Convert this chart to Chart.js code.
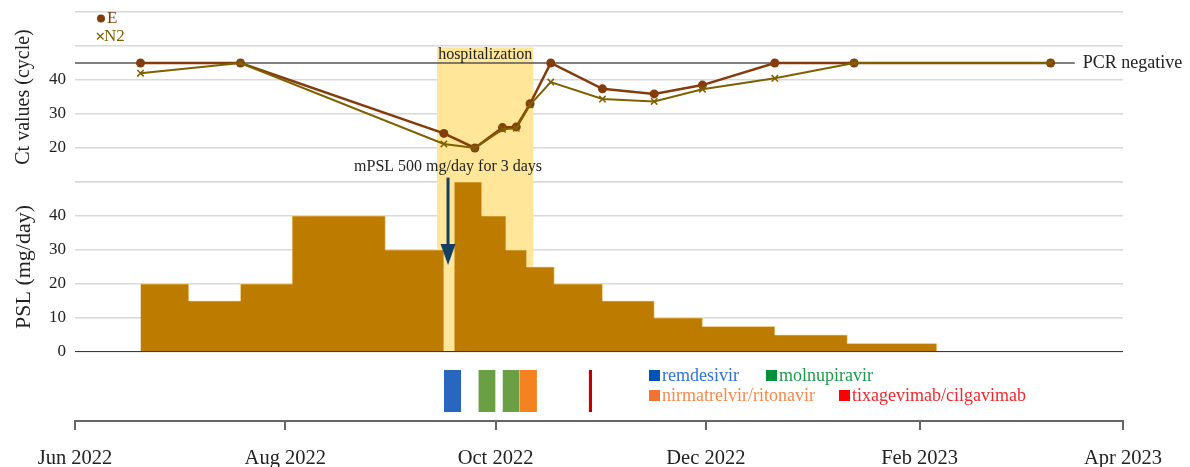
<!DOCTYPE html>
<html>
<head>
<meta charset="utf-8">
<script src="https://cdn.jsdelivr.net/npm/chart.js@4.4.1/dist/chart.umd.min.js"></script>
<style>
  html, body { margin: 0; padding: 0; background: #ffffff; }
  #wrap { width: 1190px; height: 467px; }
</style>
</head>
<body>
<div id="wrap"><canvas id="c" width="1190" height="467"></canvas></div>
<script>
// ---- Ct values of SARS-CoV-2 RT-PCR (45 = negative) ----
const ctDates = ['2022-06-20','2022-07-19','2022-09-16','2022-09-25','2022-10-03','2022-10-07','2022-10-11',
                 '2022-10-17','2022-11-01','2022-11-16','2022-11-30','2022-12-21','2023-01-13','2023-03-11'];
const ctE  = [45, 45, 24.3, 20, 26, 26.2, 33, 45, 37.4, 35.9, 38.5, 45, 45, 45];
const ctN2 = [42, 45, 21.2, 20, 25.5, 25.8, 32.7, 39.4, 34.4, 33.7, 37.3, 40.5, 45, 45];

// ---- oral prednisolone dose, each value holds until the next date ----
const pslDates = ['2022-06-20','2022-07-04','2022-07-19','2022-08-03','2022-08-30','2022-09-16','2022-09-19',
                  '2022-09-27','2022-10-04','2022-10-10','2022-10-18','2022-11-01','2022-11-16','2022-11-30',
                  '2022-12-21','2023-01-11','2023-02-06'];
const pslDose  = [20, 15, 20, 40, 30, 0, 50, 40, 30, 25, 20, 15, 10, 7.5, 5, 2.5, 0];

// ---- events ----
const hospitalization = ['2022-09-14', '2022-10-12'];
const mpslPulse = ['2022-09-16', '2022-09-19'];

// ---- antiviral / antibody treatments ----
const treatDrug  = ['remdesivir', 'molnupiravir', 'molnupiravir', 'nirmatrelvir/ritonavir', 'tixagevimab/cilgavimab'];
const treatStart = ['2022-09-16', '2022-09-26', '2022-10-03', '2022-10-08', '2022-10-28'];
const treatEnd   = ['2022-09-21', '2022-10-01', '2022-10-08', '2022-10-13', '2022-10-29'];
const drugNames  = ['remdesivir', 'molnupiravir', 'nirmatrelvir/ritonavir', 'tixagevimab/cilgavimab'];

// ---- axes ----
const xTickDates  = ['2022-06-01','2022-08-01','2022-10-01','2022-12-01','2023-02-01','2023-04-01'];
const xTickLabels = ['Jun 2022','Aug 2022','Oct 2022','Dec 2022','Feb 2023','Apr 2023'];
const ctTickLabels  = [20, 30, 40];
const pslTickLabels = [0, 10, 20, 30, 40];
const pcrNegativeCt = 45;
const pcrLineEnd = '2023-03-18';

// ---- helpers ----
const ORIGIN = Date.UTC(2022, 5, 1);
function day(s) {
  const [y, m, d] = s.split('-').map(Number);
  return (Date.UTC(y, m - 1, d) - ORIGIN) / 864e5;
}
const FONT = '"Liberation Serif", "Times New Roman", serif';
const drugStyle = {
  'remdesivir':             { bar: '#2966C0', key: '#0052B4', text: '#2E74D4' },
  'molnupiravir':           { bar: '#6AA043', key: '#00913D', text: '#1E9A4C' },
  'nirmatrelvir/ritonavir': { bar: '#F58220', key: '#F07430', text: '#F5894C' },
  'tixagevimab/cilgavimab': { bar: '#C00000', key: '#FF0000', text: '#F0282D' }
};
const C_E = '#843C0C', C_N2 = '#7F6000', C_PSL = '#BD7B00', C_HOSP = '#FFE699', C_ARROW = '#123F63';
const HOSP_TOP_CT = 49.6;            // upper edge of the shaded stay in the Ct panel
const TX_LOW = 0.13, TX_HIGH = 0.74;  // vertical extent of treatment bars

const datasets = [];

// hospitalization shading (two pieces, one per panel)
datasets.push({
  data: hospitalization.map(d => ({ x: day(d), y: HOSP_TOP_CT })),
  yAxisID: 'yCt', fill: { value: 5 }, backgroundColor: C_HOSP,
  borderColor: 'rgba(0,0,0,0)', borderWidth: 0, pointRadius: 0, order: 20
});
datasets.push({
  data: hospitalization.map(d => ({ x: day(d), y: 50 })),
  yAxisID: 'yPsl', fill: 'origin', backgroundColor: C_HOSP,
  borderColor: 'rgba(0,0,0,0)', borderWidth: 0, pointRadius: 0, order: 20
});

// prednisolone dose steps
datasets.push({
  data: pslDates.map((d, i) => ({ x: day(d), y: pslDose[i] })),
  yAxisID: 'yPsl', stepped: true, fill: 'origin', backgroundColor: C_PSL,
  borderColor: 'rgba(255,226,160,0.55)', borderWidth: 1, pointRadius: 0, order: 10
});

// treatment bars
treatDrug.forEach((name, i) => {
  datasets.push({
    data: [{ x: day(treatStart[i]), y: TX_HIGH }, { x: day(treatEnd[i]), y: TX_HIGH }],
    yAxisID: 'yTx', fill: { value: TX_LOW }, backgroundColor: drugStyle[name].bar,
    borderColor: 'rgba(0,0,0,0)', borderWidth: 0, pointRadius: 0, order: 10
  });
});

// PSL zero line
datasets.push({
  data: [{ x: 0, y: 0 }, { x: day(xTickDates[xTickDates.length - 1]), y: 0 }],
  yAxisID: 'yPsl', borderColor: '#3A3A3A', borderWidth: 2, pointRadius: 0, fill: false, order: 6
});

// PCR negative reference line
datasets.push({
  data: [{ x: 0, y: pcrNegativeCt }, { x: day(pcrLineEnd), y: pcrNegativeCt }],
  yAxisID: 'yCt', borderColor: '#555555', borderWidth: 1.5, pointRadius: 0, fill: false, order: 5
});

// Ct series
datasets.push({
  label: 'E',
  data: ctDates.map((d, i) => ({ x: day(d), y: ctE[i] })),
  yAxisID: 'yCt', borderColor: C_E, backgroundColor: C_E, borderWidth: 2.5,
  pointStyle: 'circle', pointRadius: 4.5, pointBorderWidth: 0, fill: false, tension: 0, order: 2
});
datasets.push({
  label: 'N2',
  data: ctDates.map((d, i) => ({ x: day(d), y: ctN2[i] })),
  yAxisID: 'yCt', borderColor: C_N2, backgroundColor: C_N2, borderWidth: 2,
  pointStyle: 'crossRot', pointRadius: 4.5, pointBorderWidth: 1.5, fill: false, tension: 0, order: 1
});

// text, arrow and keys drawn on top of the plot
const annotations = {
  id: 'annotations',
  afterDraw(chart) {
    const { ctx, scales: { x, yCt, yPsl } } = chart;
    ctx.save();

    // hospitalization label
    const hx = (x.getPixelForValue(day(hospitalization[0])) + x.getPixelForValue(day(hospitalization[1]))) / 2;
    ctx.fillStyle = '#222';
    ctx.font = '16px ' + FONT;
    ctx.textAlign = 'center';
    ctx.textBaseline = 'alphabetic';
    ctx.fillText('hospitalization', hx, yCt.getPixelForValue(pcrNegativeCt) - 4);

    // PCR negative label
    ctx.font = '18px ' + FONT;
    ctx.textAlign = 'left';
    ctx.textBaseline = 'middle';
    ctx.fillText('PCR negative', x.getPixelForValue(day(pcrLineEnd)) + 8, yCt.getPixelForValue(pcrNegativeCt));

    // mPSL pulse arrow
    const ax = (x.getPixelForValue(day(mpslPulse[0])) + x.getPixelForValue(day(mpslPulse[1]))) / 2 - 1;
    const aTop = yPsl.getPixelForValue(51.3), aTip = yPsl.getPixelForValue(25.6);
    ctx.strokeStyle = C_ARROW;
    ctx.fillStyle = C_ARROW;
    ctx.lineWidth = 3;
    ctx.beginPath();
    ctx.moveTo(ax, aTop);
    ctx.lineTo(ax, aTip - 16);
    ctx.stroke();
    ctx.beginPath();
    ctx.moveTo(ax - 7.5, aTip - 21);
    ctx.lineTo(ax + 7.5, aTip - 21);
    ctx.lineTo(ax, aTip);
    ctx.closePath();
    ctx.fill();
    ctx.fillStyle = '#222';
    ctx.font = '16px ' + FONT;
    ctx.textAlign = 'center';
    ctx.textBaseline = 'alphabetic';
    ctx.fillText('mPSL 500 mg/day for 3 days', ax, aTop - 7);

    // Ct series key
    ctx.textAlign = 'left';
    ctx.textBaseline = 'middle';
    ctx.font = '17px ' + FONT;
    ctx.fillStyle = C_E;
    ctx.beginPath(); ctx.arc(101, 18.5, 4, 0, Math.PI * 2); ctx.fill();
    ctx.fillText('E', 107, 19);
    ctx.strokeStyle = C_N2;
    ctx.lineWidth = 1.3;
    ctx.beginPath();
    ctx.moveTo(97, 33); ctx.lineTo(103.5, 39.5);
    ctx.moveTo(103.5, 33); ctx.lineTo(97, 39.5);
    ctx.stroke();
    ctx.fillStyle = C_N2;
    ctx.fillText('N2', 104, 36.5);

    // treatment key
    ctx.font = '18px ' + FONT;
    const keyPos = [[649, 375.5], [766, 375.5], [649, 395.5], [839, 395.5]];
    drugNames.forEach((name, i) => {
      const [kx, ky] = keyPos[i];
      ctx.fillStyle = drugStyle[name].key;
      ctx.fillRect(kx, ky - 5.5, 11, 11);
      ctx.fillStyle = drugStyle[name].text;
      ctx.fillText(name, kx + 13, ky + 0.5);
    });

    ctx.restore();
  }
};

// y axes: fixed width, no extra padding for edge labels
function fitLeftAxis(s) {
  s.width = 75;
  s.paddingTop = 0;
  s.paddingBottom = 0;
}
// gridlines every 10 units across the axis range
function tenSteps(s) {
  const t = [];
  for (let v = s.min; v <= s.max; v += 10) t.push({ value: v });
  s.ticks = t;
}

new Chart(document.getElementById('c'), {
  type: 'line',
  data: { datasets },
  plugins: [annotations],
  options: {
    responsive: false,
    animation: false,
    events: [],
    layout: { padding: { top: 12, right: 67, left: 0, bottom: 0 } },
    plugins: { legend: { display: false }, tooltip: { enabled: false } },
    scales: {
      x: {
        type: 'linear',
        min: 0,
        max: day(xTickDates[xTickDates.length - 1]),
        afterBuildTicks: s => { s.ticks = xTickDates.map(d => ({ value: day(d) })); },
        afterFit: s => { s.height = 46; s.paddingLeft = 0; s.paddingRight = 0; },
        ticks: {
          autoSkip: false, maxRotation: 0, padding: 16, color: '#222',
          font: { family: FONT, size: 20.5 },
          callback: (v, i) => xTickLabels[i]
        },
        grid: { drawOnChartArea: false, drawTicks: true, tickLength: 9, color: '#666', lineWidth: 2 },
        border: { display: true, color: '#666', width: 2 }
      },
      yTx: {
        type: 'linear', position: 'left', stack: 'panels', stackWeight: 69,
        min: 0, max: 1,
        afterFit: fitLeftAxis,
        ticks: { display: false },
        grid: { display: false },
        border: { display: false }
      },
      yPsl: {
        type: 'linear', position: 'left', stack: 'panels', stackWeight: 170,
        min: 0, max: 50,
        afterBuildTicks: tenSteps,
        afterFit: fitLeftAxis,
        ticks: {
          autoSkip: false, padding: 9, color: '#222', font: { family: FONT, size: 17 },
          callback: v => pslTickLabels.includes(v) ? String(v) : ''
        },
        grid: { color: '#D9D9D9', lineWidth: 1.5, drawTicks: false },
        border: { display: false },
        title: { display: true, text: 'PSL (mg/day)', color: '#222', font: { family: FONT, size: 22 }, padding: { top: 11, bottom: 0 } }
      },
      yCt: {
        type: 'linear', position: 'left', stack: 'panels', stackWeight: 170,
        min: 10, max: 60,
        afterBuildTicks: tenSteps,
        afterFit: fitLeftAxis,
        ticks: {
          autoSkip: false, padding: 9, color: '#222', font: { family: FONT, size: 17 },
          callback: v => ctTickLabels.includes(v) ? String(v) : ''
        },
        grid: { color: '#D9D9D9', lineWidth: 1.5, drawTicks: false },
        border: { display: false },
        title: { display: true, text: 'Ct values (cycle)', color: '#222', font: { family: FONT, size: 20 }, padding: { top: 12, bottom: 0 } }
      }
    }
  }
});
</script>
</body>
</html>
